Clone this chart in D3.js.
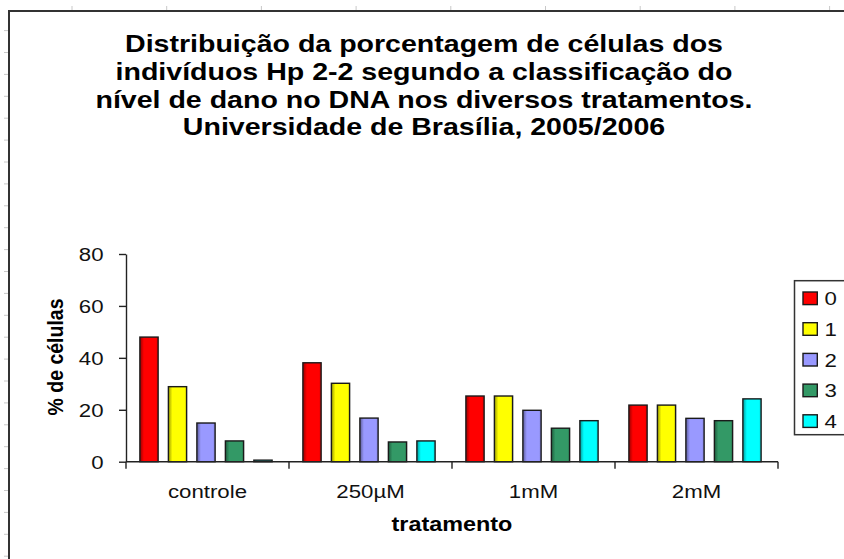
<!DOCTYPE html>
<html>
<head>
<meta charset="utf-8">
<script src="https://cdn.jsdelivr.net/npm/d3@7"></script>
<style>
  body { margin: 0; background: #fff; }
  svg { display: block; font-family: "Liberation Sans", Arial, sans-serif; }
</style>
</head>
<body>
<script>
var width = 844;
var height = 559;

// data
var titleLines = [
  "Distribuição da porcentagem de células dos",
  "indivíduos Hp 2-2 segundo a classificação do",
  "nível de dano no DNA nos diversos tratamentos.",
  "Universidade de Brasília, 2005/2006"
];
var categories = ["controle", "250µM", "1mM", "2mM"];
var series = ["0", "1", "2", "3", "4"];
var nivel0 = [48.0, 38.1, 25.3, 21.8];
var nivel1 = [28.9, 30.2, 25.3, 21.8];
var nivel2 = [14.9, 16.8, 19.8, 16.7];
var nivel3 = [8.0, 7.6, 12.9, 15.8];
var nivel4 = [0.6, 8.0, 15.8, 24.2];
var yTicks = [0, 20, 40, 60, 80];
var colors = ["#ff0000", "#ffff00", "#9999ff", "#339966", "#00ffff"];

var values = [nivel0, nivel1, nivel2, nivel3, nivel4];

// the picture is stretched sideways, so text gets a horizontal scale
var sx = 1.17;

var svg = d3.select('body').append('svg')
    .attr('width', width)
    .attr('height', height);

// spreadsheet cell marks outside the chart frame
svg.append('g').selectAll('line')
    .data(d3.range(0, 9))
  .enter().append('line')
    .attr('x1', function(d) { return 72 + d * 94.7; })
    .attr('x2', function(d) { return 72 + d * 94.7; })
    .attr('y1', 6).attr('y2', 10)
    .attr('stroke', '#c8c8c8');
svg.append('g').selectAll('line')
    .data(d3.range(0, 25))
  .enter().append('line')
    .attr('x1', 4).attr('x2', 8)
    .attr('y1', function(d) { return 30.6 + d * 21.9; })
    .attr('y2', function(d) { return 30.6 + d * 21.9; })
    .attr('stroke', '#c8c8c8');

// chart frame (runs off the right and bottom edge)
svg.append('rect')
    .attr('x', 9).attr('y', 11)
    .attr('width', 900).attr('height', 600)
    .attr('fill', '#fff')
    .attr('stroke', '#333')
    .attr('stroke-width', 2);

// gradients for the bars, dark on the left edge
var defs = svg.append('defs');
colors.forEach(function(c, i) {
  var g = defs.append('linearGradient')
      .attr('id', 'grad' + i)
      .attr('x1', 0).attr('x2', 1).attr('y1', 0).attr('y2', 0);
  g.append('stop').attr('offset', '0%').attr('stop-color', d3.color(c).darker(1.4));
  g.append('stop').attr('offset', '22%').attr('stop-color', c);
  g.append('stop').attr('offset', '88%').attr('stop-color', c);
  g.append('stop').attr('offset', '100%').attr('stop-color', d3.color(c).darker(0.5));
});

// title
svg.append('g').selectAll('text')
    .data(titleLines)
  .enter().append('text')
    .attr('transform', function(d, i) {
      return 'translate(424,' + (52.4 + i * 27.6) + ') scale(1.19,1)';
    })
    .attr('text-anchor', 'middle')
    .attr('font-size', 24)
    .attr('font-weight', 'bold')
    .attr('fill', '#000')
    .text(function(d) { return d; });

// scales
var x0 = d3.scaleBand()
    .domain(categories)
    .range([126, 778])
    .paddingInner(0)
    .paddingOuter(0);

var x1 = d3.scaleBand()
    .domain(series)
    .range([0, x0.bandwidth()])
    .paddingInner(0.36)
    .paddingOuter(0.54);

var y = d3.scaleLinear()
    .domain([0, 80])
    .range([461.7, 254]);

// bars
var groups = svg.append('g').selectAll('g')
    .data(categories)
  .enter().append('g')
    .attr('transform', function(d) { return 'translate(' + (x0(d) - 1.5) + ',0)'; });

groups.selectAll('rect')
    .data(function(d, ci) {
      return series.map(function(s, si) { return {s: s, si: si, v: values[si][ci]}; });
    })
  .enter().append('rect')
    .attr('x', function(d) { return x1(d.s); })
    .attr('y', function(d) { return y(d.v); })
    .attr('width', x1.bandwidth())
    .attr('height', function(d) { return y(0) - y(d.v); })
    .attr('fill', function(d) { return 'url(#grad' + d.si + ')'; })
    .attr('stroke', '#1a1a1a')
    .attr('stroke-width', 1.4);

// y axis
var yAxis = svg.append('g')
    .attr('transform', 'translate(126,0)')
    .call(d3.axisLeft(y).tickValues(yTicks).tickSizeInner(7).tickSizeOuter(0));
yAxis.select('.domain').attr('stroke', '#222').attr('stroke-width', 1.4);
yAxis.selectAll('.tick line').attr('stroke', '#222').attr('stroke-width', 1.4);
yAxis.selectAll('.tick text')
    .attr('x', null)
    .attr('dy', '0.36em')
    .attr('transform', 'translate(-22.5,0) scale(' + sx + ',1)')
    .attr('font-size', 19)
    .attr('font-family', '"Liberation Sans", Arial, sans-serif')
    .attr('fill', '#111');

// x axis: labels centred in bands, ticks at band edges
var xAxis = svg.append('g')
    .attr('transform', 'translate(0,' + y(0) + ')')
    .call(d3.axisBottom(x0).tickSize(0).tickPadding(0));
xAxis.select('.domain').remove();
xAxis.append('line')
    .attr('x1', x0.range()[0]).attr('x2', x0.range()[1])
    .attr('stroke', '#222').attr('stroke-width', 1.4);
xAxis.selectAll('.tick text')
    .attr('y', null)
    .attr('dy', null)
    .attr('transform', 'translate(0,36.6) scale(' + sx + ',1)')
    .attr('font-size', 19)
    .attr('font-family', '"Liberation Sans", Arial, sans-serif')
    .attr('fill', '#111');
xAxis.selectAll('.edge')
    .data(categories.map(function(c) { return x0(c); }).concat([x0.range()[1]]))
  .enter().append('line')
    .attr('class', 'edge')
    .attr('x1', function(d) { return d; })
    .attr('x2', function(d) { return d; })
    .attr('y1', 0).attr('y2', 7)
    .attr('stroke', '#222').attr('stroke-width', 1.4);

// axis titles
svg.append('text')
    .attr('transform', 'translate(452,531) scale(' + sx + ',1)')
    .attr('text-anchor', 'middle')
    .attr('font-size', 20)
    .attr('font-weight', 'bold')
    .text('tratamento');

svg.append('text')
    .attr('transform', 'translate(62.5,357) rotate(-90) scale(1,' + sx + ')')
    .attr('text-anchor', 'middle')
    .attr('font-size', 19.5)
    .attr('font-weight', 'bold')
    .text('% de células');

// legend
var legend = svg.append('g');
legend.append('rect')
    .attr('x', 794.5).attr('y', 280.7)
    .attr('width', 100).attr('height', 154)
    .attr('fill', '#fff')
    .attr('stroke', '#333')
    .attr('stroke-width', 1.5);

var rows = legend.selectAll('.row')
    .data(series)
  .enter().append('g')
    .attr('class', 'row')
    .attr('transform', function(d, i) { return 'translate(0,' + (298.3 + i * 30.7) + ')'; });

rows.append('rect')
    .attr('x', 803).attr('y', -6.3)
    .attr('width', 14.3).attr('height', 12.6)
    .attr('fill', function(d, i) { return colors[i]; })
    .attr('stroke', '#1a1a1a')
    .attr('stroke-width', 1.4);

rows.append('text')
    .attr('transform', 'translate(824.5,0) scale(' + sx + ',1)')
    .attr('dy', '0.36em')
    .attr('font-size', 19)
    .attr('fill', '#111')
    .text(function(d) { return d; });
</script>
</body>
</html>
